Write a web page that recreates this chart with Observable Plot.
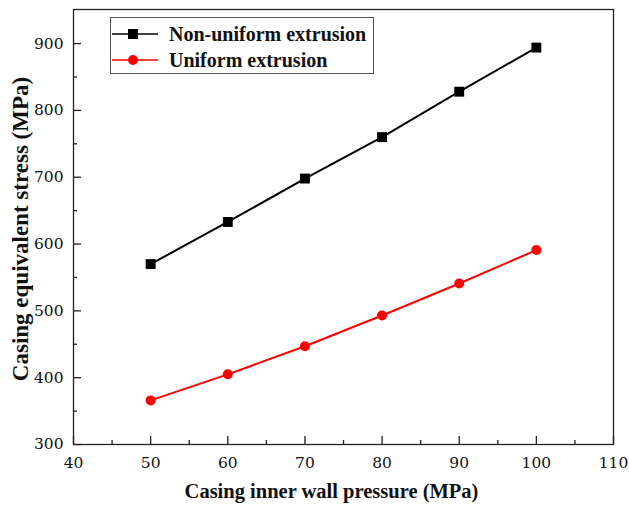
<!DOCTYPE html>
<html><head><meta charset="utf-8">
<script src="https://cdn.jsdelivr.net/npm/d3@7"></script>
<script src="https://cdn.jsdelivr.net/npm/@observablehq/plot@0.6"></script>
<style>
body{margin:0;background:#fff;font-family:"Liberation Serif",serif;}
#wrap{position:relative;width:629px;height:507px;}
#legend{position:absolute;left:110px;top:17px;width:264px;height:57px;border:1px solid #555;background:#fff;box-sizing:border-box;}
.item{position:absolute;left:0;height:24px;display:flex;align-items:center;font-weight:bold;font-size:20px;color:#111;font-family:"Liberation Serif",serif;white-space:nowrap;}
.item svg{margin-right:10px;}
</style></head>
<body><div id="wrap"><div id="legend"></div></div>
<script>
const pressure = [50, 60, 70, 80, 90, 100];
const nonUniform = [570, 633, 698, 760, 828, 894];
const uniform = [366, 405, 447, 493, 541, 591];
const seriesNames = ["Non-uniform extrusion", "Uniform extrusion"];
const seriesColors = ["#000000", "#ff0000"];
const xTicks = [40, 50, 60, 70, 80, 90, 100, 110];
const xMinor = [45, 55, 65, 75, 85, 95, 105];
const yTicks = [300, 400, 500, 600, 700, 800, 900];
const yMinor = [350, 450, 550, 650, 750, 850];
const xLabel = "Casing inner wall pressure (MPa)";
const yLabel = "Casing equivalent stress (MPa)";

const rows = [];
pressure.forEach((p, i) => {
  rows.push({x: p, y: nonUniform[i], s: seriesNames[0]});
  rows.push({x: p, y: uniform[i], s: seriesNames[1]});
});
const nu = rows.filter(d => d.s === seriesNames[0]);
const un = rows.filter(d => d.s === seriesNames[1]);

const W = 629, H = 507, mL = 73, mR = 16, mT = 9, mB = 63;
const pw = W - mL - mR, ph = H - mT - mB;
const FF = "'Liberation Serif', serif";
const TF = "'DejaVu Serif', serif";

const chart = Plot.plot({
  width: W, height: H,
  marginLeft: mL, marginRight: mR, marginTop: mT, marginBottom: mB,
  style: {fontFamily: FF, fontSize: "16px", color: "#111", background: "#fff"},
  x: {domain: [40, 110]},
  y: {domain: [300, 951]},
  marks: [
    Plot.frame({stroke: "#222", strokeWidth: 1.3}),
    Plot.axisX({ticks: xTicks, tickSize: 0, tickPadding: 12, label: null, fontSize: 15.5, fontFamily: TF}),
    Plot.axisY({ticks: yTicks, tickSize: 0, tickPadding: 10, label: null, fontSize: 15.5, fontFamily: TF}),
    Plot.tickX(xTicks, {x: d => d, insetTop: ph - 8, stroke: "#222", strokeWidth: 1.3}),
    Plot.tickX(xMinor, {x: d => d, insetTop: ph - 4, stroke: "#222", strokeWidth: 1.3}),
    Plot.tickY(yTicks, {y: d => d, insetRight: pw - 8, stroke: "#222", strokeWidth: 1.3}),
    Plot.tickY(yMinor, {y: d => d, insetRight: pw - 4, stroke: "#222", strokeWidth: 1.3}),
    Plot.text([xLabel], {text: d => d, frameAnchor: "bottom", textAnchor: "middle", dx: -12, dy: 53, fontWeight: "bold", fontSize: 20.5, fontFamily: FF, fill: "#111"}),
    Plot.text([yLabel], {text: d => d, frameAnchor: "left", textAnchor: "middle", rotate: -90, dx: -53, dy: 2, fontWeight: "bold", fontSize: 23, fontFamily: FF, fill: "#111"}),
    Plot.line(nu, {x: "x", y: "y", stroke: seriesColors[0], strokeWidth: 2}),
    Plot.dot(nu, {x: "x", y: "y", symbol: "square", r: 5.6, fill: seriesColors[0]}),
    Plot.line(un, {x: "x", y: "y", stroke: seriesColors[1], strokeWidth: 2}),
    Plot.dot(un, {x: "x", y: "y", symbol: "circle", r: 5, fill: seriesColors[1]})
  ]
});
const wrap = document.getElementById("wrap");
wrap.insertBefore(chart, wrap.firstChild);

const legend = document.getElementById("legend");
seriesNames.forEach((name, i) => {
  const item = document.createElement("div");
  item.className = "item";
  item.style.top = (i === 0 ? 4 : 30) + "px";
  const c = seriesColors[i];
  const marker = i === 0
    ? `<rect x="17" y="7" width="10" height="10" fill="${c}"/>`
    : `<circle cx="22" cy="12" r="5" fill="${c}"/>`;
  item.innerHTML = `<svg width="48" height="24"><line x1="1" x2="47" y1="12" y2="12" stroke="${c}" stroke-width="1.5"/>${marker}</svg><span>${name}</span>`;
  legend.appendChild(item);
});
</script></body></html>
